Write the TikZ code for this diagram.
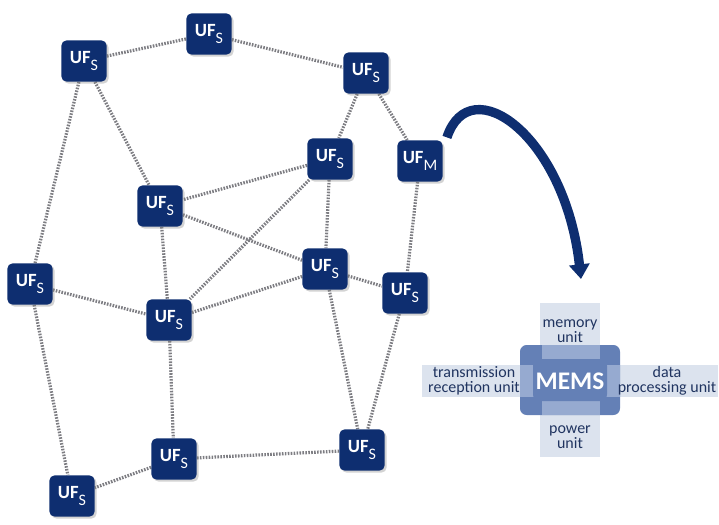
\documentclass[tikz,border=0pt]{standalone}
\usepackage{fontspec}
\setmainfont{Carlito}
\usetikzlibrary{arrows.meta,shadows,backgrounds}

\definecolor{ufblue}{RGB}{14,46,112}
\definecolor{linkgray}{RGB}{125,125,130}
\definecolor{armgray}{RGB}{220,227,238}
\definecolor{memsblue}{RGB}{100,128,182}
\definecolor{memslight}{RGB}{150,170,208}
\definecolor{labelblue}{RGB}{32,52,96}

\newcommand{\uflabel}[1]{\textbf{UF}\raisebox{-0.75ex}{\fontsize{12}{12}\selectfont #1}}

\tikzset{
  ufbox/.style={fill=ufblue,text=white,rounded corners=4pt,
    minimum width=34pt,minimum height=31pt,inner sep=1pt,
    font=\fontsize{14}{14}\selectfont,
    drop shadow={opacity=0.35,shadow xshift=1.5pt,shadow yshift=-1.5pt}},
  link/.style={draw=linkgray,line width=2.4pt,dash pattern=on 1.2pt off 1pt},
  unitlabel/.style={text=labelblue,align=center,inner sep=0pt,
    font=\fontsize{12}{11.5}\selectfont}
}

\begin{document}
\begin{tikzpicture}[x=0.75pt,y=-0.75pt]
        \useasboundingbox (0,0) rectangle (719,525);

        % Nodos de la red
        \node[ufbox] (a) at (84,61) {\uflabel{S}};
        \node[ufbox] (b) at (209,34) {\uflabel{S}};
        \node[ufbox] (c) at (366,73) {\uflabel{S}};
        \node[ufbox] (d) at (330,159) {\uflabel{S}};
        \node[ufbox] (m) at (420,161) {\uflabel{M}};
        \node[ufbox] (e) at (160,206) {\uflabel{S}};
        \node[ufbox] (f) at (30,284) {\uflabel{S}};
        \node[ufbox] (g) at (325,269) {\uflabel{S}};
        \node[ufbox] (h) at (405,293) {\uflabel{S}};
        \node[ufbox] (i) at (169,320) {\uflabel{S}};
        \node[ufbox] (j) at (362,450) {\uflabel{S}};
        \node[ufbox] (k) at (174,459) {\uflabel{S}};
        \node[ufbox] (l) at (72,496) {\uflabel{S}};

        % Enlaces punteados
        \begin{scope}[on background layer]
        \foreach \u/\v in {a/b,b/c,a/f,a/e,c/d,c/m,d/e,d/i,d/g,m/h,e/g,e/i,
                           f/i,i/g,g/h,g/j,h/j,i/k,k/j,f/l,k/l}
          \draw[link] (\u) -- (\v);
        \end{scope}

        % Bloque MEMS
        \fill[armgray] (540,303) rectangle (600,457);
        \fill[armgray] (422,365) rectangle (718,397);
        \fill[memsblue,rounded corners=5pt] (520,345) rectangle (620,415);
        \fill[memslight] (542,345) rectangle (600,415);
        \fill[memslight] (520,365) rectangle (620,397);
        \fill[memsblue,rounded corners=5pt] (533,359) rectangle (607,401);
        \node[text=white,font=\fontsize{19}{19}\selectfont\bfseries] (mems) at (570,381) {MEMS};
        \node[unitlabel] (mem) at (570,331) {memory\\unit};
        \node[unitlabel] (pow) at (570,437) {power\\unit};
        \node[unitlabel] (trx) at (474,381) {transmission\\reception unit};
        \node[unitlabel] (dat) at (667,381) {data\\processing unit};

        % Flecha hacia el MEMS
        \coordinate (tip) at (581,279);
        \draw[ufblue,line width=7pt,-{Triangle[width=15pt,length=11pt]}]
          ([xshift=3pt,yshift=2pt]m.north east) .. controls (470,68) and (565,135) .. (tip);
\end{tikzpicture}
\end{document}
